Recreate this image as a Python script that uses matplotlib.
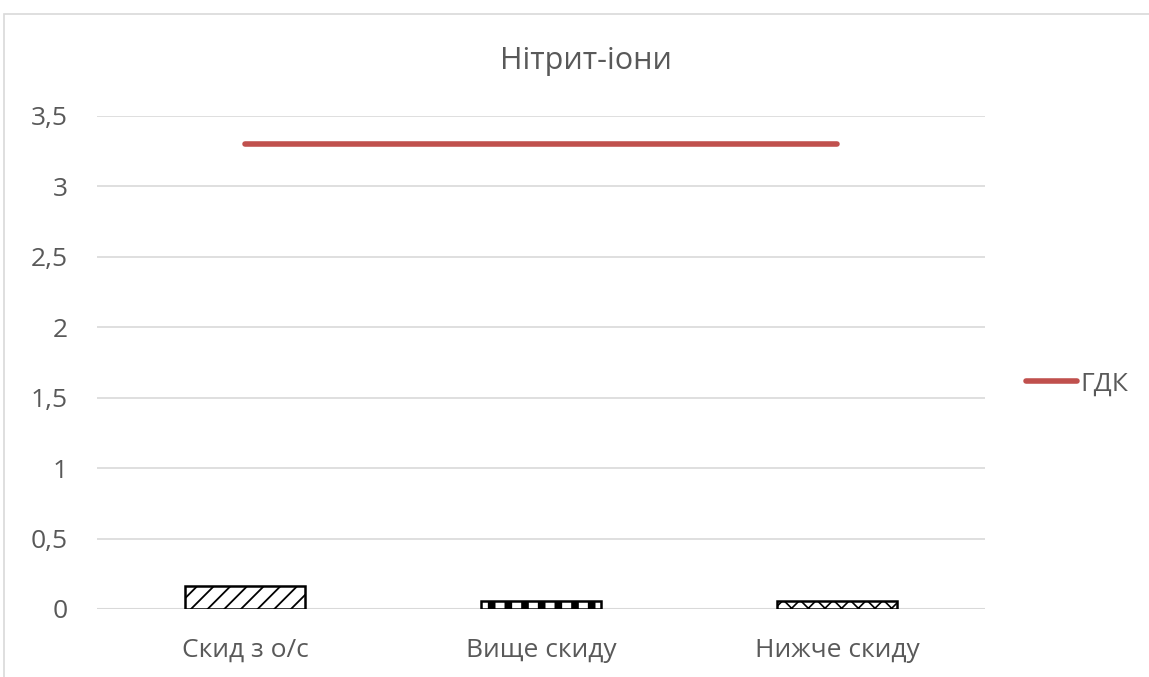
import numpy as np
import matplotlib.pyplot as plt
from matplotlib.patches import Rectangle

plt.rcParams['font.family'] = ['Open Sans', 'DejaVu Sans']

categories = ['Скид з о/с', 'Вище скиду', 'Нижче скиду']
values = [0.16, 0.06, 0.06]
gdk = [3.3, 3.3, 3.3]
hatches = ['//', '|', 'xx']
hatch_widths = [1.3, 5.5, 1.2]
yticks = [0, 0.5, 1, 1.5, 2, 2.5, 3, 3.5]
ytick_labels = ['0', '0,5', '1', '1,5', '2', '2,5', '3', '3,5']

fig = plt.figure(figsize=(11.49, 6.77), dpi=100)
ax = fig.add_axes([97 / 1149, 1 - 609 / 677, 888 / 1149, (609 - 116) / 677])

# outer chart border
fig.patches.append(Rectangle((4 / 1149, -0.05), 1.1, 1 - 14 / 677 + 0.05,
                             transform=fig.transFigure, fill=False,
                             edgecolor='#d9d9d9', linewidth=1.2))

x = np.arange(len(categories))
for xi, v, h, hw in zip(x, values, hatches, hatch_widths):
    with plt.rc_context({'hatch.linewidth': hw}):
        ax.bar(xi, v, width=0.405, color='white', edgecolor='black',
               hatch=h, linewidth=1.8, zorder=3)

ax.plot(x, gdk, color='#c0504d', linewidth=4, solid_capstyle='round',
        label='ГДК', zorder=4)

ax.set_xlim(-0.5, 2.5)
ax.set_ylim(0, 3.5)
ax.set_yticks(yticks)
ax.set_yticklabels(ytick_labels)
ax.set_xticks(x)
ax.set_xticklabels(categories)
ax.tick_params(axis='both', length=0, colors='#595959', labelsize=19)
ax.tick_params(axis='y', pad=21)
ax.tick_params(axis='x', pad=21)
ax.grid(axis='y', color='#d9d9d9', linewidth=1.2, zorder=0)
for s in ax.spines.values():
    s.set_visible(False)
ax.axhline(0, color='#d9d9d9', linewidth=1.5, zorder=2)

fig.text(586 / 1149, 1 - 61 / 677, 'Нітрит-іони', fontsize=22,
         color='#595959', ha='center', va='center')

fig.legend(loc='center left', bbox_to_anchor=(1026 / 1149, 1 - 384 / 677),
           frameon=False, fontsize=19, handlelength=1.95, handletextpad=0.1,
           borderpad=0, borderaxespad=0, labelcolor='#595959')

fig.savefig('out.png', dpi=100)
